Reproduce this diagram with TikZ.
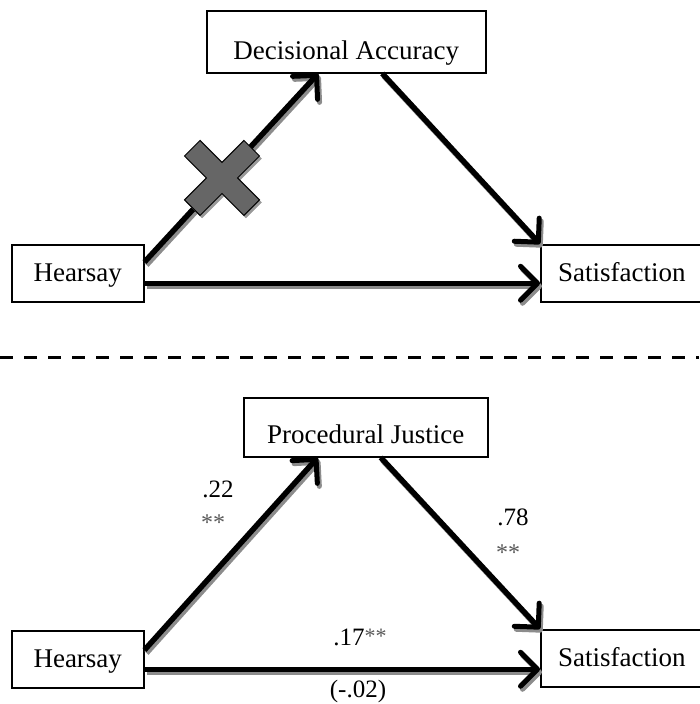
\documentclass[tikz,border=0pt]{standalone}
\usepackage{fontspec}
\setmainfont{Liberation Serif}
\usetikzlibrary{arrows.meta,calc}

\newcommand\shadedarrow[2]{%
  \draw[arrshade] ([shift={(2pt,-3pt)}]#1) -- ([shift={(2pt,-3pt)}]#2);
  \draw[arr] (#1) -- (#2);}

\begin{document}
\begin{tikzpicture}[x=1pt, y=-1pt,
  box/.style={draw, line width=1.5pt, inner sep=0pt, anchor=north west,
              font=\fontsize{27}{32}\selectfont},
  sbox/.style={box, text height=37pt, text depth=20pt},
  arr/.style={line width=5.5pt, -{Straight Barb[length=17pt,width=34pt,line width=5pt,round]}},
  arrshade/.style={arr, draw=black!45},
  num/.style={anchor=base, font=\fontsize{25}{30}\selectfont},
  stars/.style={anchor=base, text=black!65, font=\fontsize{24}{28}\selectfont},
  plus/.pic={\path[pic actions] (-11,-42) -- (11,-42) -- (11,-11) -- (42,-11) -- (42,11)
    -- (11,11) -- (11,42) -- (-11,42) -- (-11,11) -- (-42,11) -- (-42,-11) -- (-11,-11) -- cycle;}]
\useasboundingbox (0,0) rectangle (699,704);
% top panel
\node[box, minimum width=279pt, text height=49pt, text depth=13pt] (da) at (206,10) {Decisional Accuracy};
\node[sbox, minimum width=132pt] (h1) at (11,244) {Hearsay};
\node[sbox, minimum width=162pt] (s1) at (540,244) {Satisfaction};
\coordinate (a1) at ([yshift=-18pt]h1.north east);
\coordinate (a2) at ([xshift=-28pt]da.south);
\coordinate (a3) at ([xshift=36pt]da.south);
\coordinate (a4) at ([yshift=-10pt]h1.east);
\coordinate (a5) at ([yshift=-10pt]s1.west);
\shadedarrow{a1}{a2}
\shadedarrow{a3}{s1.north west}
\shadedarrow{a4}{a5}
% the cross on the first path
\coordinate (xm) at ($(a1)!0.446!(a2)$);
\pic[fill=black!40, draw=black!40, rotate=45] at ([shift={(2pt,-2.5pt)}]xm) {plus};
\pic[fill=black!60, draw=black, line width=1pt, rotate=45] at (xm) {plus};
% separator
\draw[line width=3pt, dash pattern=on 13pt off 11pt] (0,357) -- (699,357);
% bottom panel
\node[box, minimum width=244pt, text height=46pt, text depth=13pt] (pj) at (243,397) {Procedural Justice};
\node[sbox, minimum width=132pt] (h2) at (11,630) {Hearsay};
\node[sbox, minimum width=162pt] (s2) at (540,629) {Satisfaction};
\coordinate (b1) at ([yshift=-20pt]h2.north east);
\coordinate (b2) at ([xshift=-48pt]pj.south);
\coordinate (b3) at ([xshift=15pt]pj.south);
\coordinate (b4) at ([yshift=-10pt]h2.east);
\coordinate (b5) at ([yshift=-11pt]s2.west);
\shadedarrow{b1}{b2}
\shadedarrow{b3}{s2.north west}
\shadedarrow{b4}{b5}
\node[num] (c22) at (218,497) {.22};
\node[stars] (c22s) at (213,530) {**};
\node[num] (c78) at (513,525) {.78};
\node[stars] (c78s) at (508,560) {**};
\node[num] (c17) at (360,645) {.17\raisebox{2pt}{\color{black!65}\fontsize{22}{26}\selectfont **}};
\node[num] (c02) at (358,697) {(-.02)};
\end{tikzpicture}
\end{document}
